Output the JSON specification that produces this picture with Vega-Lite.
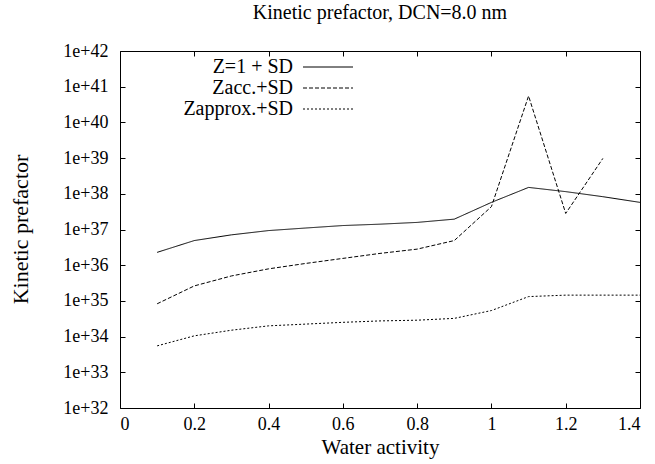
{
  "$schema": "https://vega.github.io/schema/vega-lite/v6.json",
  "width": 520,
  "height": 357,
  "autosize": {"type": "none"},
  "padding": {"left": 120, "top": 51, "right": 15, "bottom": 56},
  "background": "white",
  "config": {
    "font": "Liberation Serif",
    "view": {"stroke": "black", "strokeWidth": 1},
    "axis": {
      "domain": false, "grid": false, "tickColor": "black", "tickSize": -5, "tickWidth": 1,
      "labelColor": "black", "labelFont": "Liberation Serif", "labelFontSize": 18,
      "titleColor": "black", "titleFont": "Liberation Serif", "titleFontWeight": "normal"
    },
    "legend": {"labelFont": "Liberation Serif"}
  },
  "title": {
    "text": "Kinetic prefactor, DCN=8.0 nm",
    "font": "Liberation Serif", "fontSize": 20, "fontWeight": "normal", "color": "black",
    "anchor": "middle", "baseline": "alphabetic", "offset": 3
  },
  "data": {"values": [
    {"a": 0.1, "series": "Z=1 + SD", "k": 2.29e36},
    {"a": 0.2, "series": "Z=1 + SD", "k": 4.9e36},
    {"a": 0.3, "series": "Z=1 + SD", "k": 7.08e36},
    {"a": 0.4, "series": "Z=1 + SD", "k": 9.33e36},
    {"a": 0.5, "series": "Z=1 + SD", "k": 1.10e37},
    {"a": 0.6, "series": "Z=1 + SD", "k": 1.29e37},
    {"a": 0.7, "series": "Z=1 + SD", "k": 1.41e37},
    {"a": 0.8, "series": "Z=1 + SD", "k": 1.58e37},
    {"a": 0.9, "series": "Z=1 + SD", "k": 1.95e37},
    {"a": 1.0, "series": "Z=1 + SD", "k": 5.75e37},
    {"a": 1.1, "series": "Z=1 + SD", "k": 1.51e38},
    {"a": 1.2, "series": "Z=1 + SD", "k": 1.15e38},
    {"a": 1.3, "series": "Z=1 + SD", "k": 8.3e37},
    {"a": 1.4, "series": "Z=1 + SD", "k": 5.75e37},
    {"a": 0.1, "series": "Zacc.+SD", "k": 8.3e34},
    {"a": 0.2, "series": "Zacc.+SD", "k": 2.63e35},
    {"a": 0.3, "series": "Zacc.+SD", "k": 5.0e35},
    {"a": 0.4, "series": "Zacc.+SD", "k": 7.9e35},
    {"a": 0.5, "series": "Zacc.+SD", "k": 1.12e36},
    {"a": 0.6, "series": "Zacc.+SD", "k": 1.55e36},
    {"a": 0.7, "series": "Zacc.+SD", "k": 2.14e36},
    {"a": 0.8, "series": "Zacc.+SD", "k": 2.82e36},
    {"a": 0.9, "series": "Zacc.+SD", "k": 4.9e36},
    {"a": 1.0, "series": "Zacc.+SD", "k": 4.37e37},
    {"a": 1.1, "series": "Zacc.+SD", "k": 5.5e40},
    {"a": 1.2, "series": "Zacc.+SD", "k": 2.82e37},
    {"a": 1.3, "series": "Zacc.+SD", "k": 9.8e38},
    {"a": 0.1, "series": "Zapprox.+SD", "k": 5.5e33},
    {"a": 0.2, "series": "Zapprox.+SD", "k": 1.05e34},
    {"a": 0.3, "series": "Zapprox.+SD", "k": 1.51e34},
    {"a": 0.4, "series": "Zapprox.+SD", "k": 2.0e34},
    {"a": 0.5, "series": "Zapprox.+SD", "k": 2.24e34},
    {"a": 0.6, "series": "Zapprox.+SD", "k": 2.51e34},
    {"a": 0.7, "series": "Zapprox.+SD", "k": 2.75e34},
    {"a": 0.8, "series": "Zapprox.+SD", "k": 2.88e34},
    {"a": 0.9, "series": "Zapprox.+SD", "k": 3.24e34},
    {"a": 1.0, "series": "Zapprox.+SD", "k": 5.37e34},
    {"a": 1.1, "series": "Zapprox.+SD", "k": 1.32e35},
    {"a": 1.2, "series": "Zapprox.+SD", "k": 1.45e35},
    {"a": 1.3, "series": "Zapprox.+SD", "k": 1.45e35},
    {"a": 1.4, "series": "Zapprox.+SD", "k": 1.45e35}
  ]},
  "layer": [
    {
      "mark": {"type": "line", "color": "black", "strokeWidth": 1},
      "encoding": {
        "x": {
          "field": "a", "type": "quantitative",
          "scale": {"domain": [0, 1.4], "nice": false, "zero": false},
          "axis": {"orient": "bottom", "values": [0, 0.2, 0.4, 0.6, 0.8, 1, 1.2, 1.4], "format": "~g",
                   "labelPadding": 12, "labelFont": "Liberation Serif", "title": "Water activity", "titleFontSize": 21,
                   "titleBaseline": "alphabetic", "titleY": 45}
        },
        "y": {
          "field": "k", "type": "quantitative",
          "scale": {"type": "log", "domain": [1e32, 1e42], "nice": false},
          "axis": {"orient": "left", "values": [1e32, 1e33, 1e34, 1e35, 1e36, 1e37, 1e38, 1e39, 1e40, 1e41, 1e42],
                   "format": ".0e", "labelPadding": 17, "labelFont": "Liberation Serif", "title": "Kinetic prefactor", "titleFontSize": 22,
                   "titleAngle": -90, "titleBaseline": "middle", "titleAlign": "center", "titleX": -100, "titleY": 178}
        },
        "detail": {"field": "series"},
        "strokeDash": {
          "field": "series", "type": "nominal",
          "scale": {"domain": ["Z=1 + SD", "Zacc.+SD", "Zapprox.+SD"], "range": [[1, 0], [4, 2], [2, 2]]},
          "legend": {
            "orient": "none", "legendX": 198, "legendY": 6, "title": null,
            "symbolType": "M-5,0H5", "symbolSize": 100, "symbolStrokeColor": "black", "symbolStrokeWidth": 1,
            "labelFontSize": 20, "labelColor": "black", "labelFont": "Liberation Serif", "rowPadding": 1,
            "encode": {"labels": {"update": {"x": {"value": -25}, "align": {"value": "right"}}}}
          }
        }
      }
    },
    {
      "mark": {"type": "line", "opacity": 0},
      "encoding": {
        "x": {"field": "a", "type": "quantitative",
              "axis": {"orient": "top", "values": [0, 0.2, 0.4, 0.6, 0.8, 1, 1.2, 1.4], "labels": false, "title": null}},
        "y": {"field": "k", "type": "quantitative",
              "axis": {"orient": "right", "values": [1e32, 1e33, 1e34, 1e35, 1e36, 1e37, 1e38, 1e39, 1e40, 1e41, 1e42], "labels": false, "title": null}},
        "detail": {"field": "series"}
      }
    }
  ]
}
